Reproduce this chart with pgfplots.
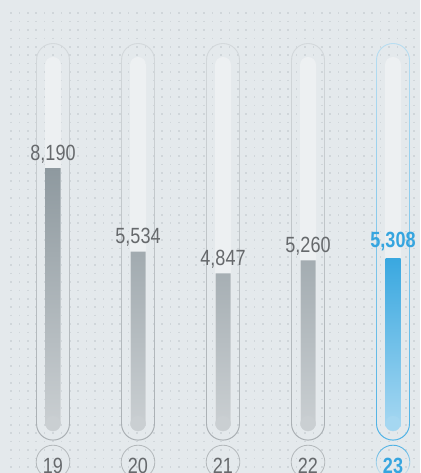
\documentclass[border=0pt]{standalone}
\usepackage{fontspec}
\setmainfont{Liberation Sans}[FakeStretch=0.82]
\usepackage{pgfplots}
\pgfplotsset{compat=1.18}
\usetikzlibrary{fadings}
\definecolor{bg}{HTML}{E4E9EC}
\definecolor{dotc}{HTML}{D0D6DA}
\definecolor{track}{HTML}{EDF0F2}
\definecolor{tubetop}{HTML}{D4D9DC}
\definecolor{tubebot}{HTML}{A9AFB3}
\definecolor{btubetop}{HTML}{B8DEF2}
\definecolor{btubebot}{HTML}{4FB2E5}
\definecolor{bartop}{HTML}{8E999F}
\definecolor{barbot}{HTML}{CACFD2}
\definecolor{bbartop}{HTML}{3AA8E0}
\definecolor{bbarbot}{HTML}{A5D7F1}
\definecolor{lab}{HTML}{66696C}
\definecolor{blab}{HTML}{36A5DF}
\definecolor{circ}{HTML}{B3B8BB}
\begin{document}
\begin{tikzpicture}[x=1pt,y=1pt]
% background
\fill[bg] (0,0) rectangle (420,473);
% dot grid
\foreach \i in {0,...,48} {
  \draw[dotc, line width=1.5pt, dash pattern=on 1.5pt off 6.9pt] ({11+8.4*\i},460.5) -- ({11+8.4*\i},0);
}
% tubes, tracks, circles
\foreach \cx/\ct/\cb in {53/tubetop/tubebot, 138/tubetop/tubebot, 223/tubetop/tubebot, 308/tubetop/tubebot, 393/btubetop/btubebot} {
  \draw[\ct, line width=0.9pt, rounded corners=16.5pt] ({\cx-16.5},33) rectangle ({\cx+16.5},429.5);
  \draw[\cb, line width=0.9pt, rounded corners=16.5pt, path fading=north] ({\cx-16.5},33) rectangle ({\cx+16.5},429.5);
  \fill[track, rounded corners=8pt] ({\cx-8},42) rectangle ({\cx+8},416);
}
\foreach \cx in {53,138,223,308} {
  \draw[circ, line width=0.8pt] (\cx,11) circle (16.8);
}
\draw[btubebot, line width=0.9pt, path fading=south] (393,11) circle (16.8);
\begin{axis}[at={(0,0)}, anchor=south west, scale only axis,
  width=420pt, height=473pt,
  xmin=-0.62353, xmax=4.31765, ymin=-1492, ymax=13524,
  hide axis, clip=false]
% bars
\addplot[ybar, bar shift=0pt, bar width=15pt, draw=none, top color=bartop, bottom color=barbot]
  coordinates {(0,8190) (1,5534) (2,4847) (3,5260)};
\addplot[ybar, bar shift=0pt, bar width=15pt, draw=none, top color=bbartop, bottom color=bbarbot]
  coordinates {(4,5308)};
% rounded bottom caps
\addplot[barbot, only marks, mark=*, mark size=7.5pt]
  coordinates {(0,79) (1,79) (2,79) (3,79)};
\addplot[bbarbot, only marks, mark=*, mark size=7.5pt]
  coordinates {(4,79)};
% value labels
\addplot[draw=none, nodes near coords, point meta=explicit symbolic,
  every node near coord/.append style={anchor=base, inner sep=0pt, yshift=8pt, text=lab,
    font=\fontsize{22}{22}\selectfont}]
  coordinates {(0,8190) [8,190] (1,5534) [5,534] (2,4847) [4,847] (3,5260) [5,260]};
\addplot[draw=none, nodes near coords, point meta=explicit symbolic,
  every node near coord/.append style={anchor=base, inner sep=0pt, yshift=11pt, text=blab,
    font=\fontsize{22}{22}\selectfont\bfseries}]
  coordinates {(4,5308) [5,308]};
% category labels
\addplot[draw=none, nodes near coords, point meta=explicit symbolic,
  every node near coord/.append style={anchor=center, inner sep=0pt, text=lab,
    font=\fontsize{22}{22}\selectfont}]
  coordinates {(0,-1254) [19] (1,-1254) [20] (2,-1254) [21] (3,-1254) [22]};
\addplot[draw=none, nodes near coords, point meta=explicit symbolic,
  every node near coord/.append style={anchor=center, inner sep=0pt, text=blab,
    font=\fontsize{22}{22}\selectfont\bfseries}]
  coordinates {(4,-1254) [23]};
\end{axis}
\pgfresetboundingbox
\useasboundingbox (0,0) rectangle (420,473);
\end{tikzpicture}
\end{document}
